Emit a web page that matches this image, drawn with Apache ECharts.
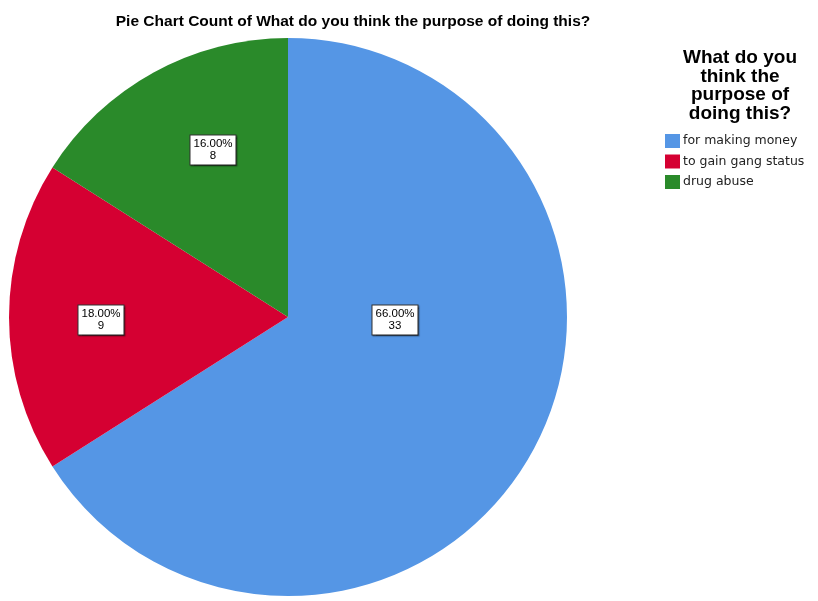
<!DOCTYPE html>
<html>
<head>
<meta charset="utf-8">
<script src="https://cdn.jsdelivr.net/npm/echarts@6/dist/echarts.min.js"></script>
<style>
  html, body { margin: 0; padding: 0; background: #fff; }
  #chart { width: 818px; height: 601px; }
</style>
</head>
<body>
<div id="chart"></div>
<script>
// Responses to: What do you think the purpose of doing this?
const categories = ['for making money', 'to gain gang status', 'drug abuse'];
const counts = [33, 9, 8];
const colors = ['#5596E5', '#D50032', '#2A8A2A'];
// Label box centres (px) for each slice
const labelSpots = [[395, 320], [101, 320], [213, 150]];

const total = counts.reduce((a, b) => a + b, 0);
const SANS = "'Liberation Sans', Arial, sans-serif";
const chart = echarts.init(document.getElementById('chart'), null, { renderer: 'canvas' });

chart.setOption({
  animation: false,
  backgroundColor: '#ffffff',
  title: [
    {
      text: 'Pie Chart Count of What do you think the purpose of doing this?',
      left: 348, top: 9, textAlign: 'center',
      textStyle: { fontFamily: SANS, fontSize: 15.5, fontWeight: 'bold', color: '#000' }
    },
    {
      text: 'What do you\nthink the\npurpose of\ndoing this?',
      left: 735, top: 44, textAlign: 'center',
      textStyle: { fontFamily: SANS, fontSize: 19, fontWeight: 'bold', color: '#000', lineHeight: 18.5, align: 'center' }
    }
  ],
  legend: {
    orient: 'vertical',
    left: 665, top: 134,
    padding: 0,
    itemWidth: 15, itemHeight: 14, itemGap: 6.5,
    icon: 'rect',
    selectedMode: false,
    data: categories,
    textStyle: { fontFamily: "'DejaVu Sans', sans-serif", fontSize: 12.5, color: '#222', padding: [0, 0, 0, -2] }
  },
  series: [{
    type: 'pie',
    center: [288, 317],
    radius: 279,
    startAngle: 90,
    clockwise: true,
    avoidLabelOverlap: false,
    silent: true,
    itemStyle: { borderWidth: 0 },
    data: categories.map((name, i) => ({ name, value: counts[i], itemStyle: { color: colors[i] } })),
    label: {
      show: true,
      position: 'inside',
      formatter: p => (p.value / total * 100).toFixed(2) + '%\n' + p.value,
      fontFamily: SANS,
      fontSize: 11.5,
      lineHeight: 12,
      color: '#000',
      align: 'center',
      backgroundColor: '#fff',
      borderColor: '#333',
      borderWidth: 1,
      padding: [3, 3, 2, 3],
      shadowColor: 'rgba(0,0,0,0.35)',
      shadowOffsetX: 1,
      shadowOffsetY: 1,
      shadowBlur: 1
    },
    labelLine: { show: false },
    labelLayout: p => ({
      x: labelSpots[p.dataIndex][0],
      y: labelSpots[p.dataIndex][1],
      align: 'center',
      verticalAlign: 'middle'
    })
  }]
});
</script>
</body>
</html>
